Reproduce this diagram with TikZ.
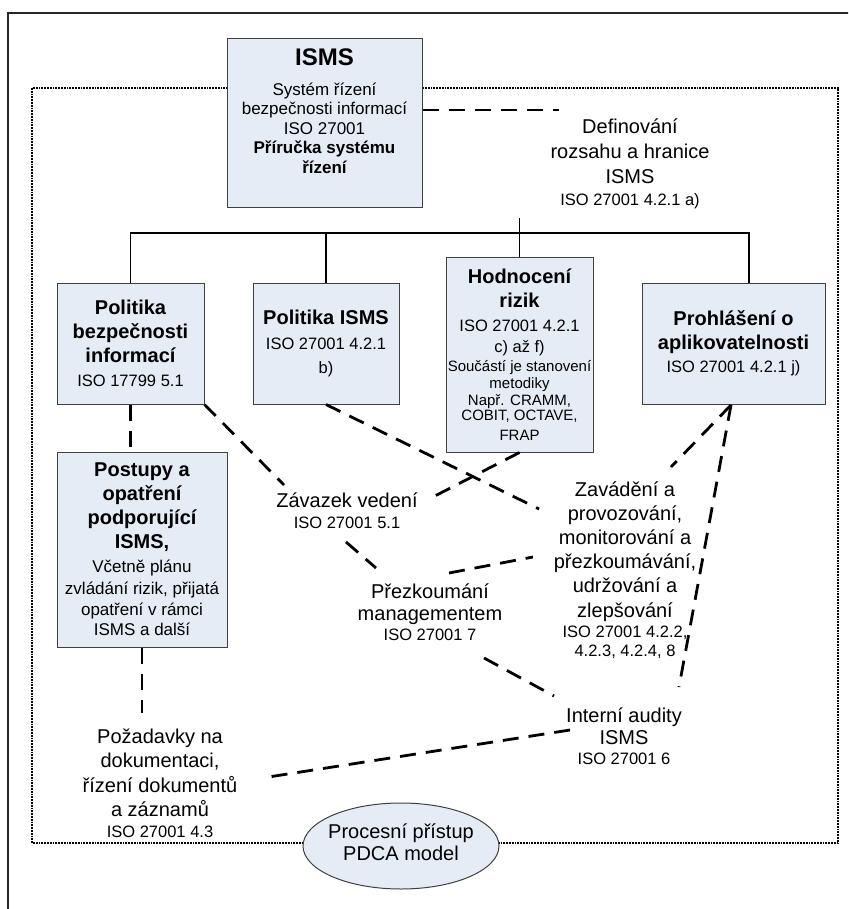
\documentclass[tikz,border=0pt]{standalone}
\usepackage{fontspec}
\setmainfont{Liberation Sans}
\usetikzlibrary{shapes.geometric}
\definecolor{boxfill}{HTML}{E6ECF6}
\definecolor{boxline}{HTML}{404040}
\newcommand{\fbig}{\fontsize{24}{28}\selectfont}
\newcommand{\fhead}{\fontsize{20}{24}\selectfont}
\newcommand{\fiso}{\fontsize{16.5}{20}\selectfont}
\begin{document}
\begin{tikzpicture}[x=1pt,y=-1pt,
  box/.style={draw=boxline, fill=boxfill, line width=1pt, inner sep=0pt, align=center},
  txt/.style={inner sep=0pt, align=center},
  conn/.style={line width=2.8pt, dash pattern=on 16pt off 10pt},
  bus/.style={line width=1.4pt},
  frame/.style={line width=1.3pt, draw=black!85},
  zone/.style={line width=2.2pt, dash pattern=on 1.8pt off 1pt}]
\useasboundingbox (0,0) rectangle (848,909);
\clip (0,0) rectangle (848,909);
% outer frame and dotted zone
\draw[frame] (8,930) -- (8,13) -- (880,13);
\draw[zone] (32,88) rectangle (838,843);

% boxes
\node[box, minimum width=195pt, minimum height=169pt] (isms) at (324.5,123.5) {};
\node[txt, font=\fontsize{17}{19.5}\selectfont] (ismst) at (324.5,111)
  {{\fbig\bfseries ISMS}\\[10pt]Systém řízení\\bezpečnosti informací\\ISO 27001\\{\bfseries Příručka systému}\\{\bfseries řízení}};

\node[box, minimum width=147pt, minimum height=121pt, font=\fontsize{20}{24}\selectfont\bfseries] (b1) at (130.5,343.5)
  {Politika\\bezpečnosti\\informací\\{\fiso\mdseries ISO 17799 5.1}};
\node[box, minimum width=146pt, minimum height=121pt, font=\fontsize{20}{24.5}\selectfont\bfseries] (b2) at (326,343.5)
  {Politika ISMS\\{\fiso\mdseries ISO 27001 4.2.1}\\{\fiso\mdseries b)}};
\node[box, minimum width=147pt, minimum height=195pt, font=\fontsize{15}{17}\selectfont] (hod) at (519.5,354.5)
  {{\fhead\bfseries Hodnocení}\\[7pt]{\fhead\bfseries rizik}\\[7pt]{\fiso ISO 27001 4.2.1}\\[4pt]{\fiso c) až f)}\\[2pt]Součástí je stanovení\\[0pt]metodiky\\Např. CRAMM,\\[-2pt]COBIT, OCTAVE,\\[3pt]FRAP};
\node[box, minimum width=183pt, minimum height=121pt, font=\fontsize{20}{23.5}\selectfont\bfseries] (b4) at (733.5,343.5)
  {Prohlášení o\\aplikovatelnosti\\{\fiso\mdseries ISO 27001 4.2.1 j)}};
\node[box, minimum width=170pt, minimum height=195pt, font=\fontsize{17}{21}\selectfont] (post) at (142,549.5)
  {{\fhead\bfseries Postupy a}\\[3pt]{\fhead\bfseries opatření}\\[3pt]{\fhead\bfseries podporující}\\[3pt]{\fhead\bfseries ISMS,}\\[3pt]Včetně plánu\\[1pt]zvládání rizik, přijatá\\opatření v rámci\\[-1pt]ISMS a další};

% free texts
\node[txt, font=\fontsize{20}{25}\selectfont] (def) at (630,164)
  {Definování\\rozsahu a hranice\\ISMS\\[-3pt]{\fiso ISO 27001 4.2.1 a)}};
\node[txt, font=\fontsize{20}{21}\selectfont] (zav) at (347,511)
  {Závazek vedení\\{\fiso ISO 27001 5.1}};
\node[txt, font=\fontsize{20}{22}\selectfont] (prez) at (430,612)
  {Přezkoumání\\managementem\\[-2pt]{\fiso ISO 27001 7}};
\node[txt, font=\fontsize{20}{24.2}\selectfont] (impl) at (625,570)
  {Zavádění a\\provozování,\\monitorování a\\přezkoumávání,\\udržování a\\zlepšování\\[-4pt]{\fiso ISO 27001 4.2.2,}\\[-5pt]{\fiso 4.2.3, 4.2.4, 8}};
\node[txt, font=\fontsize{20}{22}\selectfont] (intn) at (624,736)
  {Interní audity\\ISMS\\[-2pt]{\fiso ISO 27001 6}};
\node[txt, font=\fontsize{20}{24.5}\selectfont] (pozad) at (160,783)
  {Požadavky na\\dokumentaci,\\řízení dokumentů\\a záznamů\\[-4pt]{\fiso ISO 27001 4.3}};

% PDCA ellipse
\node[ellipse, draw=boxline, fill=boxfill, line width=1pt, minimum width=196pt, minimum height=86pt, inner sep=0pt] (pdca) at (401,846) {};
\node[txt, font=\fontsize{20}{22.5}\selectfont] (pdcat) at (401,842) {Procesní přístup\\PDCA model};

% org chart bus
\coordinate (busR) at (749,233);
\coordinate (stub) at (519.5,218);
\draw[bus] (b1.north) -- (b1.north |- busR) -- (busR) -- (busR |- b4.north);
\draw[bus] (b2.north) -- (b2.north |- busR);
\draw[bus] (hod.north) -- (stub);

% free ends of dashed connectors
\coordinate (defL) at (559,110);
\coordinate (zavL) at (284,485);
\coordinate (zavR) at (427,500);
\coordinate (zavB) at (346,542);
\coordinate (prezT) at (376,568);
\coordinate (prezR) at (449,573);
\coordinate (implL2) at (533,557);
\coordinate (implL1) at (539,509);
\coordinate (implT) at (671,467);
\coordinate (intR) at (679,687);
\coordinate (prezB) at (484,658);
\coordinate (intL1) at (554,696);
\coordinate (intL2) at (570,730);
\coordinate (pozR) at (262,778);
\coordinate (pozT) at (142,713);
\coordinate (b4S) at (731,405);

% dashed connectors
\draw[conn] (isms.east |- defL) -- (defL);
\draw[conn] (b1.south) -- (b1.south |- post.north);
\draw[conn] (post.south) -- (pozT);
\draw[conn] (b1.south east) -- (zavL);
\draw[conn] (b2.south) -- (implL1);
\draw[conn] (hod.south) -- (zavR);
\draw[conn] (zavB) -- (prezT);
\draw[conn] (prezR) -- (implL2);
\draw[conn] (b4S) -- (implT);
\draw[conn] (b4S) -- (intR);
\draw[conn] (prezB) -- (intL1);
\draw[conn] (intL2) -- (pozR);
\end{tikzpicture}
\end{document}
